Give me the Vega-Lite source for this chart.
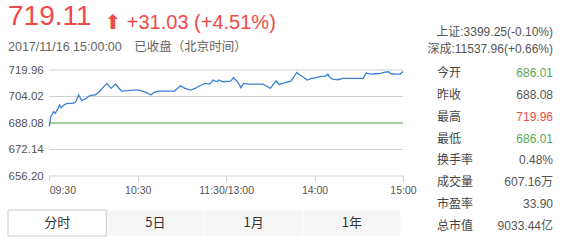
{
  "$schema": "https://vega.github.io/schema/vega-lite/v6.json",
  "background": "#ffffff",
  "padding": {"left": 7, "top": 2, "right": 0, "bottom": 0},
  "config": {
    "font": "Liberation Sans, Noto Sans CJK SC",
    "view": {"stroke": null},
    "title": {"fontWeight": "normal", "font": "Liberation Sans, DejaVu Sans, Noto Sans CJK SC"}
  },
  "title": {
    "text": ["上证:3399.25(-0.10%)", "深成:11537.96(+0.66%)"],
    "anchor": "end",
    "frame": "bounds",
    "fontSize": 12,
    "lineHeight": 17,
    "color": "#555555",
    "font": "Liberation Sans, Noto Sans CJK SC",
    "offset": -53
  },
  "bounds": "full",
  "spacing": 20,
  "hconcat": [
    {
      "title": {
        "text": "⬆ +31.03 (+4.51%)",
        "anchor": "start",
        "frame": "bounds",
        "fontSize": 20,
        "color": "#ef4a4a",
        "dx": 97,
        "offset": -30
      },
      "spacing": 13,
      "vconcat": [
        {
          "width": 395,
          "height": 106,
          "title": {
            "text": "719.11",
            "subtitle": "2017/11/16 15:00:00　已收盘（北京时间）",
            "anchor": "start",
            "frame": "bounds",
            "fontSize": 28,
            "color": "#ef4a4a",
            "subtitleFontSize": 12.5,
            "subtitleColor": "#666666",
            "subtitleFont": "Liberation Sans, Noto Sans CJK SC",
            "subtitlePadding": 10,
            "offset": 11
          },
          "encoding": {
            "y": {
              "field": "价格",
              "type": "quantitative",
              "scale": {"domain": [656.2, 719.96], "nice": false, "zero": false},
              "axis": {
                "title": null,
                "values": [656.2, 672.14, 688.08, 704.02, 719.96],
                "format": ".2f",
                "domain": false,
                "ticks": false,
                "grid": false,
                "labelAlign": "left",
                "labelPadding": 0,
                "labelOverlap": false,
                "labelFontSize": 11.5,
                "labelColor": "#555555"
              }
            }
          },
          "layer": [
            {
              "data": {"values": [{"价格": 656.2}, {"价格": 672.14}, {"价格": 688.08}, {"价格": 704.02}, {"价格": 719.96}]},
              "mark": {"type": "rule", "color": "#d0d0d0", "strokeWidth": 1},
              "encoding": {
                "x": {
                  "datum": 0,
                  "type": "quantitative",
                  "scale": {"domain": [-28, 240], "nice": false, "zero": false},
                  "axis": {
                    "title": null,
                    "values": [0, 60, 120, 180, 240],
                    "labelExpr": "['09:30','10:30','11:30/13:00','14:00','15:00'][round(datum.value / 60)]",
                    "grid": false,
                    "domain": false,
                    "ticks": true,
                    "tickSize": 5,
                    "tickColor": "#cfcfcf",
                    "labelFontSize": 10.5,
                    "labelColor": "#555555",
                    "labelPadding": 4,
                    "labelFlush": true,
                    "labelOverlap": false,
                    "labelAlign": {"condition": {"test": "datum.value === 0", "value": "left"}, "value": "center"}
                  }
                },
                "x2": {"datum": 240}
              }
            },
            {
              "data": {"values": [{"价格": 688.08}]},
              "mark": {"type": "rule", "color": "#63b24f", "strokeWidth": 1.2},
              "encoding": {
                "x": {
                  "datum": 0,
                  "type": "quantitative",
                  "scale": {"domain": [-28, 240], "nice": false, "zero": false},
                  "axis": {
                    "title": null,
                    "values": [0, 60, 120, 180, 240],
                    "labelExpr": "['09:30','10:30','11:30/13:00','14:00','15:00'][round(datum.value / 60)]",
                    "grid": false,
                    "domain": false,
                    "ticks": true,
                    "tickSize": 5,
                    "tickColor": "#cfcfcf",
                    "labelFontSize": 10.5,
                    "labelColor": "#555555",
                    "labelPadding": 4,
                    "labelFlush": true,
                    "labelOverlap": false,
                    "labelAlign": {"condition": {"test": "datum.value === 0", "value": "left"}, "value": "center"}
                  }
                },
                "x2": {"datum": 240}
              }
            },
            {
              "data": {
                "values": [
                  {"分钟": 0, "价格": 686.01},
                  {"分钟": 1, "价格": 691.9},
                  {"分钟": 3, "价格": 694.9},
                  {"分钟": 4, "价格": 693.9},
                  {"分钟": 6, "价格": 696.9},
                  {"分钟": 7, "价格": 698.9},
                  {"分钟": 8, "价格": 697.3},
                  {"分钟": 10, "价格": 698.9},
                  {"分钟": 12, "价格": 699.9},
                  {"分钟": 16, "价格": 699.9},
                  {"分钟": 17, "价格": 700.3},
                  {"分钟": 18, "价格": 700.9},
                  {"分钟": 20, "价格": 704.9},
                  {"分钟": 21, "价格": 703.3},
                  {"分钟": 22, "价格": 701.5},
                  {"分钟": 25, "价格": 702.9},
                  {"分钟": 27, "价格": 704.3},
                  {"分钟": 29, "价格": 704.9},
                  {"分钟": 31, "价格": 704.9},
                  {"分钟": 34, "价格": 706.9},
                  {"分钟": 36, "价格": 708.9},
                  {"分钟": 39, "价格": 711.9},
                  {"分钟": 40, "价格": 710.9},
                  {"分钟": 42, "价格": 708.9},
                  {"分钟": 45, "价格": 711.5},
                  {"分钟": 47, "价格": 709.3},
                  {"分钟": 49, "价格": 707.3},
                  {"分钟": 53, "价格": 707.5},
                  {"分钟": 57, "价格": 707.9},
                  {"分钟": 61, "价格": 707.9},
                  {"分钟": 64, "价格": 706.9},
                  {"分钟": 66, "价格": 706.3},
                  {"分钟": 69, "价格": 704.9},
                  {"分钟": 71, "价格": 706.5},
                  {"分钟": 74, "价格": 707.3},
                  {"分钟": 80, "价格": 707.3},
                  {"分钟": 85, "价格": 707.3},
                  {"分钟": 89, "价格": 710.5},
                  {"分钟": 92, "价格": 708.9},
                  {"分钟": 96, "价格": 707.9},
                  {"分钟": 99, "价格": 708.9},
                  {"分钟": 102, "价格": 710.5},
                  {"分钟": 106, "价格": 711.9},
                  {"分钟": 109, "价格": 711.5},
                  {"分钟": 111, "价格": 713.9},
                  {"分钟": 114, "价格": 712.9},
                  {"分钟": 115, "价格": 713.9},
                  {"分钟": 118, "价格": 712.9},
                  {"分钟": 123, "价格": 713.3},
                  {"分钟": 125, "价格": 715.3},
                  {"分钟": 128, "价格": 712.5},
                  {"分钟": 130, "价格": 709.3},
                  {"分钟": 132, "价格": 711.9},
                  {"分钟": 135, "价格": 711.5},
                  {"分钟": 140, "价格": 711.5},
                  {"分钟": 145, "价格": 711.5},
                  {"分钟": 147, "价格": 710.5},
                  {"分钟": 150, "价格": 708.9},
                  {"分钟": 152, "价格": 711.3},
                  {"分钟": 154, "价格": 713.3},
                  {"分钟": 156, "价格": 711.3},
                  {"分钟": 160, "价格": 712.3},
                  {"分钟": 164, "价格": 713.3},
                  {"分钟": 168, "价格": 718.5},
                  {"分钟": 170, "价格": 716.9},
                  {"分钟": 172, "价格": 715.9},
                  {"分钟": 175, "价格": 713.9},
                  {"分钟": 178, "价格": 714.9},
                  {"分钟": 181, "价格": 715.3},
                  {"分钟": 184, "价格": 716.1},
                  {"分钟": 187, "价格": 716.1},
                  {"分钟": 189, "价格": 717.5},
                  {"分钟": 190, "价格": 715.9},
                  {"分钟": 192, "价格": 714.5},
                  {"分钟": 196, "价格": 714.1},
                  {"分钟": 199, "价格": 714.9},
                  {"分钟": 203, "价格": 714.9},
                  {"分钟": 207, "价格": 714.9},
                  {"分钟": 213, "价格": 714.9},
                  {"分钟": 215, "价格": 718.2},
                  {"分钟": 218, "价格": 717.5},
                  {"分钟": 221, "价格": 717.7},
                  {"分钟": 225, "价格": 717.9},
                  {"分钟": 227, "价格": 718.5},
                  {"分钟": 230, "价格": 718.9},
                  {"分钟": 232, "价格": 717.7},
                  {"分钟": 235, "价格": 717.5},
                  {"分钟": 238, "价格": 717.5},
                  {"分钟": 240, "价格": 719.11}
                ]
              },
              "mark": {"type": "line", "color": "#3b82d4", "strokeWidth": 1.3},
              "encoding": {
                "x": {
                  "field": "分钟",
                  "type": "quantitative",
                  "scale": {"domain": [-28, 240], "nice": false, "zero": false},
                  "axis": {
                    "title": null,
                    "values": [0, 60, 120, 180, 240],
                    "labelExpr": "['09:30','10:30','11:30/13:00','14:00','15:00'][round(datum.value / 60)]",
                    "grid": false,
                    "domain": false,
                    "ticks": true,
                    "tickSize": 5,
                    "tickColor": "#cfcfcf",
                    "labelFontSize": 10.5,
                    "labelColor": "#555555",
                    "labelPadding": 4,
                    "labelFlush": true,
                    "labelOverlap": false,
                    "labelAlign": {"condition": {"test": "datum.value === 0", "value": "left"}, "value": "center"}
                  }
                }
              }
            }
          ]
        },
        {
          "width": 393,
          "height": 26,
          "data": {"values": [{"周期": "分时"}, {"周期": "5日"}, {"周期": "1月"}, {"周期": "1年"}]},
          "encoding": {
            "x": {
              "field": "周期",
              "type": "nominal",
              "scale": {"type": "band", "domain": ["分时", "5日", "1月", "1年"], "paddingInner": 0, "paddingOuter": 0},
              "axis": null
            }
          },
          "layer": [
            {
              "transform": [{"filter": "datum['周期'] !== '分时'"}],
              "mark": {"type": "rect", "fill": "#f6f6f6", "stroke": "#ffffff", "strokeWidth": 1}
            },
            {
              "transform": [{"filter": "datum['周期'] === '分时'"}],
              "mark": {"type": "rect", "fill": "#ffffff", "stroke": "#cccccc", "strokeWidth": 1}
            },
            {
              "mark": {"type": "text", "fontSize": 13, "color": "#333333", "baseline": "middle", "font": "Noto Sans CJK SC"},
              "encoding": {"text": {"field": "周期"}}
            }
          ]
        }
      ]
    },
    {
      "width": 116,
      "height": 159,
      "data": {
        "values": [
          {"项目": "今开", "数值": "686.01"},
          {"项目": "昨收", "数值": "688.08"},
          {"项目": "最高", "数值": "719.96"},
          {"项目": "最低", "数值": "686.01"},
          {"项目": "换手率", "数值": "0.48%"},
          {"项目": "成交量", "数值": "607.16万"},
          {"项目": "市盈率", "数值": "33.90"},
          {"项目": "总市值", "数值": "9033.44亿"}
        ]
      },
      "encoding": {
        "y": {
          "field": "项目",
          "type": "nominal",
          "sort": null,
          "scale": {"type": "point", "padding": 0.137, "align": 0.5},
          "axis": null
        }
      },
      "layer": [
        {
          "mark": {"type": "text", "align": "left", "baseline": "middle", "fontSize": 12, "color": "#444444"},
          "encoding": {
            "x": {"datum": "名称", "type": "nominal", "scale": {"type": "point", "domain": ["名称", "数值"], "padding": 0}, "axis": null},
            "text": {"field": "项目"}
          }
        },
        {
          "mark": {"type": "text", "align": "right", "baseline": "middle", "fontSize": 12},
          "encoding": {
            "x": {"datum": "数值", "type": "nominal"},
            "text": {"field": "数值"},
            "color": {
              "condition": [
                {"test": "datum['项目'] === '最高'", "value": "#ef4a4a"},
                {"test": "datum['项目'] === '今开' || datum['项目'] === '最低'", "value": "#55a855"}
              ],
              "value": "#555555"
            }
          }
        }
      ]
    }
  ]
}
